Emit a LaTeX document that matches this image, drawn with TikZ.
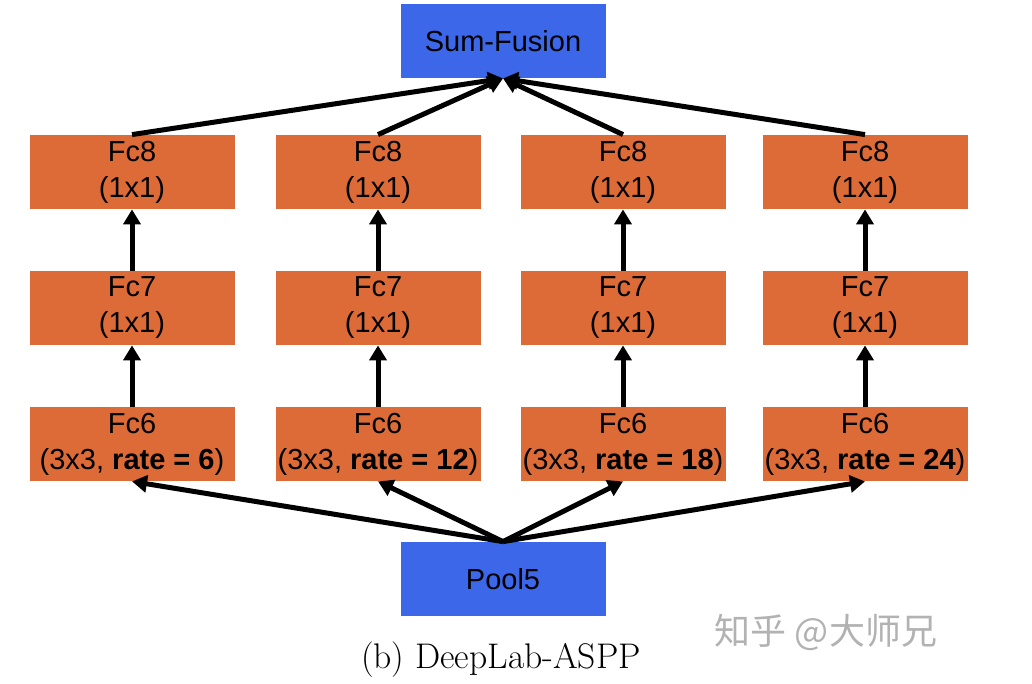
\documentclass[tikz,border=0pt]{standalone}
\usepackage{fontspec}
\setsansfont{Liberation Sans}
\newfontfamily\cjk{Noto Sans CJK SC}
\usepackage{xcolor}
\usetikzlibrary{arrows.meta}
\definecolor{fcorange}{RGB}{220,107,55}
\definecolor{poolblue}{RGB}{59,103,232}

\begin{document}
\begin{tikzpicture}
    [x=0.5pt,y=-0.5pt,
    layer/.style={fill=fcorange,minimum width=102.5pt,minimum height=37pt,
        inner sep=0pt,align=center,font=\sffamily\fontsize{14.5}{18}\selectfont},
    blob/.style={layer,fill=poolblue},
    flow/.style={line width=2.5pt,-{Triangle[width=8.5pt,length=7.5pt]}}]
\useasboundingbox (0,0) rectangle (1032,684);
\path
    (503,41) node [blob] (sum) {Sum-Fusion}
    (132,172) node [layer] (fc8a) {Fc8\\(1x1)}
    (378,172) node [layer] (fc8b) {Fc8\\(1x1)}
    (623,172) node [layer] (fc8c) {Fc8\\(1x1)}
    (865,172) node [layer] (fc8d) {Fc8\\(1x1)}
    (132,308) node [layer] (fc7a) {Fc7\\(1x1)}
    (378,308) node [layer] (fc7b) {Fc7\\(1x1)}
    (623,308) node [layer] (fc7c) {Fc7\\(1x1)}
    (865,308) node [layer] (fc7d) {Fc7\\(1x1)}
    (132,444) node [layer] (fc6a) {Fc6\\(3x3, \textbf{rate = 6})}
    (378,444) node [layer] (fc6b) {Fc6\\(3x3, \textbf{rate = 12})}
    (623,444) node [layer] (fc6c) {Fc6\\(3x3, \textbf{rate = 18})}
    (865,444) node [layer] (fc6d) {Fc6\\(3x3, \textbf{rate = 24})}
    (503,579) node [blob] (pool) {Pool5};
% pool5 to the four branches
\draw [flow] (pool.north) -- (fc6a.south);
\draw [flow] (pool.north) -- (fc6b.south);
\draw [flow] (pool.north) -- (fc6c.south);
\draw [flow] (pool.north) -- (fc6d.south);
% up each branch
\draw [flow] (fc6a) -- (fc7a);
\draw [flow] (fc6b) -- (fc7b);
\draw [flow] (fc6c) -- (fc7c);
\draw [flow] (fc6d) -- (fc7d);
\draw [flow] (fc7a) -- (fc8a);
\draw [flow] (fc7b) -- (fc8b);
\draw [flow] (fc7c) -- (fc8c);
\draw [flow] (fc7d) -- (fc8d);
% fusion
\draw [flow] (fc8a.north) -- (sum.south);
\draw [flow] (fc8b.north) -- (sum.south);
\draw [flow] (fc8c.north) -- (sum.south);
\draw [flow] (fc8d.north) -- (sum.south);
\path
    (826,632) node [text=black!30,font=\cjk\fontsize{18}{18}\selectfont] (mark) {知乎 @大师兄}
    (501,660) node [font=\fontsize{17.8}{19}\selectfont] (caption) {(b) DeepLab-ASPP};
\end{tikzpicture}
\end{document}
